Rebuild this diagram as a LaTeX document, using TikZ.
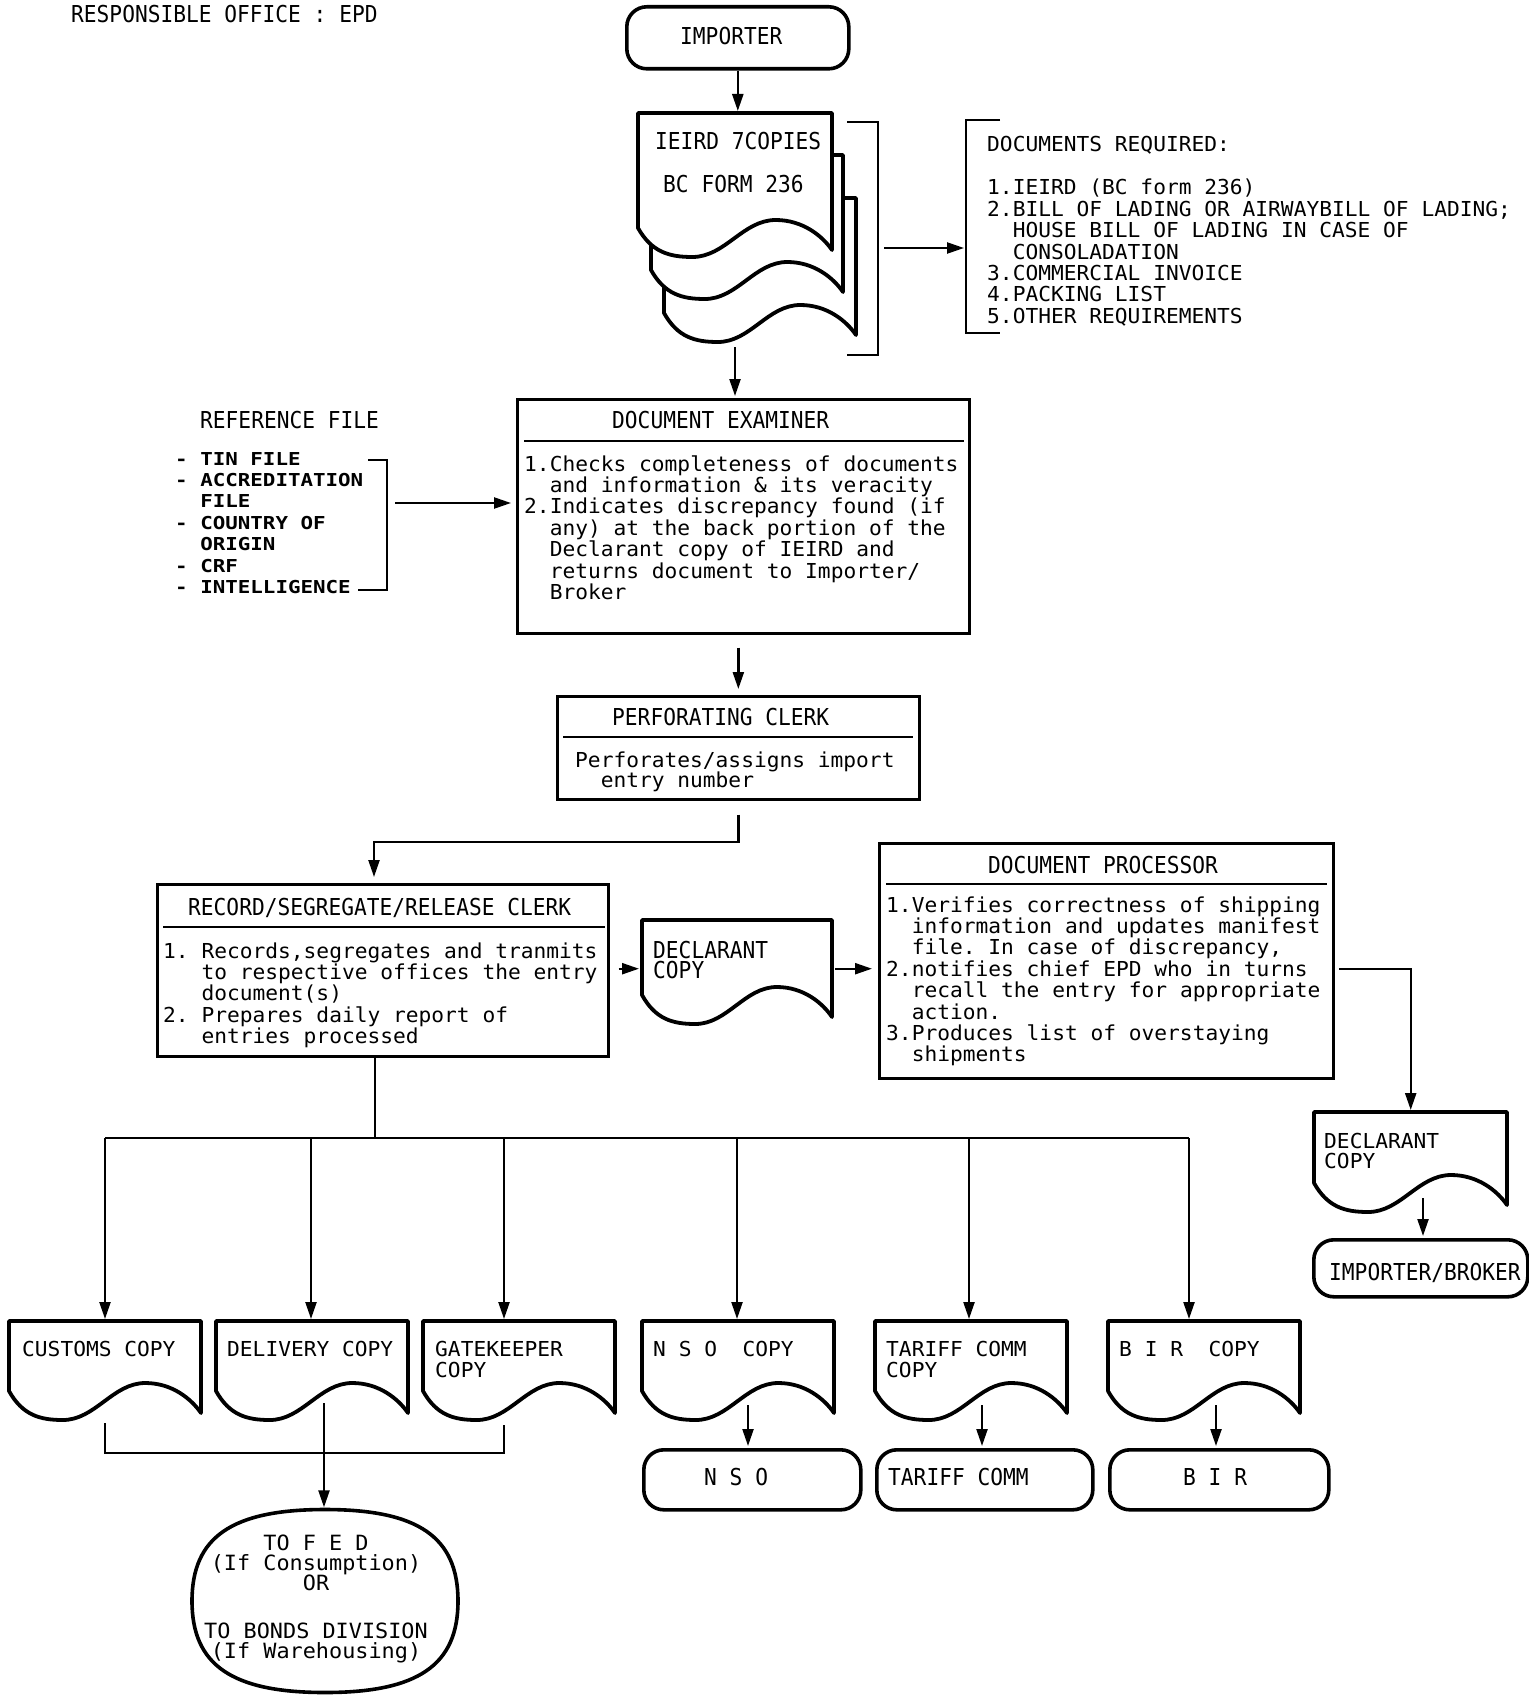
\documentclass[tikz,border=0pt]{standalone}
\usepackage{fontspec}
\newfontfamily\fA[FakeStretch=1.03]{DejaVu Sans Mono}
\newfontfamily\fB[FakeStretch=0.91]{DejaVu Sans Mono}
\newfontfamily\fF[FakeStretch=1.04]{DejaVu Sans Mono}
\newfontfamily\fE[FakeStretch=1.17]{DejaVu Sans Mono}
\usetikzlibrary{arrows.meta,shapes.geometric}
\newcommand\myL[1]{\hbox{#1}}
\newcommand\myC[1]{\hbox to 0pt{\hss#1\hss}}
\newcommand\ind{\hphantom{00}}
\newcommand\indd{\hphantom{000}}
\newcommand\fbody{\fA\fontsize{20.6pt}{21.4pt}\selectfont}
\newcommand\fbodyp{\fA\fontsize{20.6pt}{20.4pt}\selectfont}
\newcommand\fttl{\fB\fontsize{23.3pt}{20.5pt}\selectfont}
\newcommand\freff{\fE\bfseries\fontsize{17.8pt}{21.4pt}\selectfont}
\newcommand\ffed{\fF\fontsize{21pt}{20pt}\selectfont}
% #1 opts, #2 node, #3 dx, #4 dy, #5 width, #6 left edge height
\newcommand\docoutline[6][]{%
  \begin{scope}[shift={(#2.north west)},xshift=#3pt,yshift=-#4pt]
  \draw[docline,#1] (0,0) -- (0,#6)
    .. controls (0.07*#5,#6+24) and (0.16*#5,#6+29) .. (0.28*#5,#6+29)
    .. controls (0.45*#5,#6+29) and (0.54*#5,#6-8) .. (0.71*#5,#6-8)
    .. controls (0.85*#5,#6-8) and (0.95*#5,#6+8) .. (#5,#6+22)
    -- (#5,0) -- cycle;
  \end{scope}}
\begin{document}
\lineskiplimit=-100pt\relax
\frenchspacing
\begin{tikzpicture}[x=1pt,y=-1pt,
  ln/.style={line width=2.3pt},
  arr/.style={line width=2.3pt,-{Triangle[length=17pt,width=11pt]},shorten >=2pt},
  boxn/.style={draw,line width=2.7pt,anchor=north west,inner sep=0pt},
  term/.style={draw,line width=3.6pt,rounded corners=20pt,anchor=north west,inner sep=0pt},
  docn/.style={anchor=north west,inner sep=0pt},
  docline/.style={line width=3.8pt,line join=round},
  body/.style={anchor=base west,inner sep=0pt,font=\fbody},
  bodyp/.style={anchor=base west,inner sep=0pt,font=\fbodyp},
  ttl/.style={anchor=base west,inner sep=0pt,font=\fttl},
  reff/.style={anchor=base west,inner sep=0pt,font=\freff},
  fedf/.style={anchor=base,inner sep=0pt,font=\ffed}
]
\useasboundingbox (0,0) rectangle (1528,1696);

% header
\node[ttl] (resp) at (71,23) {RESPONSIBLE OFFICE : EPD};

% importer
\node[term,minimum width=222pt,minimum height=62pt] (imp) at (625,5) {};
\node[ttl] (imptxt) at (680,45) {IMPORTER};

% IEIRD stack
\node[docn,minimum width=194pt,minimum height=137pt] (ieird) at (638,113) {};
\docoutline[fill=white]{ieird}{26}{85}{192}{115}
\docoutline[fill=white]{ieird}{13}{42}{192}{115}
\docoutline[fill=white]{ieird}{0}{0}{194}{115}
\node[ttl] (ie1) at (655,150) {IEIRD 7COPIES};
\node[ttl] (ie2) at (663,193) {BC FORM 236};
\draw[arr] (imp.south) -- (imp.south |- ieird.north);

% bracket right of stack
\coordinate (b1a) at (847,122);
\coordinate (b1b) at (878,355);
\coordinate (b1m) at (878,248);
\draw[ln] (b1a) -| (b1b) -- (b1b -| b1a);

% documents required
\coordinate (dra) at (1000,120);
\coordinate (drb) at (966,333);
\draw[ln] (dra) -| (drb) -- (drb -| dra);
\draw[arr,shorten <=6pt] (b1m) -- (b1m -| drb);
\node[body] (drt) at (987,152) {DOCUMENTS REQUIRED:};
\node[body] (drl) at (987,195) {\vtop{%
  \myL{1.IEIRD (BC form 236)}%
  \myL{2.BILL OF LADING OR AIRWAYBILL OF LADING;}%
  \myL{\ind HOUSE BILL OF LADING IN CASE OF}%
  \myL{\ind CONSOLADATION}%
  \myL{3.COMMERCIAL INVOICE}%
  \myL{4.PACKING LIST}%
  \myL{5.OTHER REQUIREMENTS}}};

% reference file
\node[ttl] (refh) at (200,428) {REFERENCE FILE};
\node[reff] (refl) at (175,465) {\vtop{%
  \myL{- TIN FILE}%
  \myL{- ACCREDITATION}%
  \myL{\ind FILE}%
  \myL{- COUNTRY OF}%
  \myL{\ind ORIGIN}%
  \myL{- CRF}%
  \myL{- INTELLIGENCE}}};
\coordinate (rba) at (368,460);
\coordinate (rbb) at (387,590);
\coordinate (rbc) at (358,590);
\coordinate (rbm) at (387,503);
\draw[ln] (rba) -| (rbb) -- (rbc);

% document examiner
\node[boxn,minimum width=452pt,minimum height=234pt] (dex) at (516,398) {};
\node[ttl] (dext) at (612,428) {DOCUMENT EXAMINER};
\draw[ln] ([xshift=8pt,yshift=-43pt]dex.north west) -- ([xshift=-7pt,yshift=-43pt]dex.north east);
\node[body] (dexb) at (524,471) {\vtop{%
  \myL{1.Checks completeness of documents}%
  \myL{\ind and information \& its veracity}%
  \myL{2.Indicates discrepancy found (if}%
  \myL{\ind any) at the back portion of the}%
  \myL{\ind Declarant copy of IEIRD and}%
  \myL{\ind returns document to Importer/}%
  \myL{\ind Broker}}};
\draw[arr,shorten <=8pt,shorten >=5pt] (rbm) -- (rbm -| dex.west);
\coordinate (ieo) at (735,347);
\draw[arr] (ieo) -- (ieo |- dex.north);

% perforating clerk
\node[boxn,minimum width=362pt,minimum height=103pt] (perf) at (556,695) {};
\node[ttl] (perft) at (612,725) {PERFORATING CLERK};
\draw[ln] ([xshift=7pt,yshift=-42pt]perf.north west) -- ([xshift=-8pt,yshift=-42pt]perf.north east);
\node[bodyp] (perfb) at (575,767) {\vtop{%
  \myL{Perforates/assigns import}%
  \myL{\ind entry number}}};
\draw[arr,shorten <=13pt,shorten >=6pt] (perf.north |- dex.south) -- (perf.north);

% record / segregate / release clerk
\node[boxn,minimum width=451pt,minimum height=172pt] (rec) at (156,883) {};
\coordinate (rcb) at (374,842);
\draw[arr,shorten <=14pt,shorten >=6pt] (perf.south) |- (rcb) -- (rcb |- rec.north);
\node[ttl] (rect) at (188,915) {RECORD/SEGREGATE/RELEASE CLERK};
\draw[ln] ([xshift=7pt,yshift=-44pt]rec.north west) -- ([xshift=-5pt,yshift=-44pt]rec.north east);
\node[body] (recb) at (163,958) {\vtop{%
  \myL{1. Records,segregates and tranmits}%
  \myL{\indd to respective offices the entry}%
  \myL{\indd document(s)}%
  \myL{2. Prepares daily report of}%
  \myL{\indd entries processed}}};

% declarant copy (middle)
\node[docn,minimum width=190pt,minimum height=97pt] (dc1) at (642,920) {};
\docoutline{dc1}{0}{0}{190}{75}
\node[ttl] (dc1t) at (653,958) {\vtop{\myL{DECLARANT}\myL{COPY}}};
\draw[arr,shorten <=9pt,shorten >=3pt] (rec.east |- dc1.west) -- (dc1.west);

% document processor
\node[boxn,minimum width=454pt,minimum height=235pt] (dp) at (878,842) {};
\draw[arr,shorten <=3pt,shorten >=6pt] (dc1.east) -- (dc1.east -| dp.west);
\node[ttl] (dpt) at (988,873) {DOCUMENT PROCESSOR};
\draw[ln] ([xshift=8pt,yshift=-42pt]dp.north west) -- ([xshift=-8pt,yshift=-42pt]dp.north east);
\node[body] (dpb) at (886,912) {\vtop{%
  \myL{1.Verifies correctness of shipping}%
  \myL{\ind information and updates manifest}%
  \myL{\ind file. In case of discrepancy,}%
  \myL{2.notifies chief EPD who in turns}%
  \myL{\ind recall the entry for appropriate}%
  \myL{\ind action.}%
  \myL{3.Produces list of overstaying}%
  \myL{\ind shipments}}};

% declarant copy (right)
\coordinate (dpo) at (1332,969);
\node[docn,minimum width=193pt,minimum height=93pt] (dc2) at (1314,1112) {};
\draw[arr,shorten <=7pt] (dpo) -| (dc2.north);
\docoutline{dc2}{0}{0}{193}{71}
\node[bodyp] (dc2t) at (1324,1148) {\vtop{\myL{DECLARANT}\myL{COPY}}};

% importer/broker
\node[term,minimum width=214pt,minimum height=57pt] (ib) at (1312,1238) {};
\node[ttl] (ibt) at (1329,1280) {IMPORTER/BROKER};
\coordinate (d2o) at (1423,1198);
\draw[arr] (d2o) -- (d2o |- ib.north);

% distribution bus
\coordinate (bus) at (375,1138);
\coordinate (busL) at (105,1138);
\coordinate (busR) at (1189,1138);
\draw[ln] (rec.south -| bus) -- (bus);
\draw[ln] (busL) -- (busR);

\foreach \n/\L/\ax in {cu/9/105,de/216/311,ga/423/504,ns/642/737,ta/875/969,bi/1108/1189}{
  \node[docn,minimum width=192pt,minimum height=93pt] (\n) at (\L,1321) {};
  \docoutline{\n}{0}{0}{192}{70}
  \coordinate (b\n) at (\ax,1138);
  \draw[arr] (b\n) -- (b\n |- \n.north);
}
\node[body] (cut) at (22,1356) {CUSTOMS COPY};
\node[body] (det) at (227,1356) {DELIVERY COPY};
\node[body] (gat) at (435,1356) {\vtop{\myL{GATEKEEPER}\myL{COPY}}};
\node[body] (nst) at (653,1356) {N S O\ \ COPY};
\node[body] (tat) at (886,1356) {\vtop{\myL{TARIFF COMM}\myL{COPY}}};
\node[body] (bit) at (1119,1356) {B I R\ \ COPY};

% terminals
\node[term,minimum width=217pt,minimum height=60pt] (nsT) at (642,1448) {};
\node[ttl] (nsTt) at (704,1485) {N S O};
\node[term,minimum width=216pt,minimum height=60pt] (taT) at (875,1448) {};
\node[ttl] (taTt) at (888,1485) {TARIFF COMM};
\node[term,minimum width=219pt,minimum height=60pt] (biT) at (1108,1448) {};
\node[ttl] (biTt) at (1183,1485) {B I R};
\coordinate (nso) at (748,1405);
\coordinate (tao) at (982,1405);
\coordinate (bio) at (1216,1405);
\draw[arr] (nso) -- (nso |- nsT.north);
\draw[arr] (tao) -- (tao |- taT.north);
\draw[arr] (bio) -- (bio |- biT.north);

% bottom bracket and FED
\coordinate (bk1) at (105,1423);
\coordinate (bk2) at (504,1453);
\coordinate (bk3) at (504,1425);
\draw[ln] (bk1) |- (bk2) -- (bk3);
\node[ellipse,minimum width=266pt,minimum height=183pt,inner sep=0pt] (fed) at (325,1601) {};
\begin{scope}[shift={(fed.center)}]
\draw[line width=3.6pt] (0,-91.5) .. controls (0.7*133,-91.5) and (133,-0.7*91.5) .. (133,0)
  .. controls (133,0.7*91.5) and (0.7*133,91.5) .. (0,91.5)
  .. controls (-0.7*133,91.5) and (-133,0.7*91.5) .. (-133,0)
  .. controls (-133,-0.7*91.5) and (-0.7*133,-91.5) .. (0,-91.5) -- cycle;
\end{scope}
\coordinate (dlo) at (324,1403);
\draw[arr] (dlo) -- (dlo |- fed.north);
\node[fedf] (fedt) at (316,1550) {\vtop{%
  \myC{TO F E D}%
  \myC{(If Consumption)}%
  \myC{OR}%
  \vskip 28pt
  \myC{TO BONDS DIVISION}%
  \myC{(If Warehousing)}}};
\end{tikzpicture}
\end{document}
